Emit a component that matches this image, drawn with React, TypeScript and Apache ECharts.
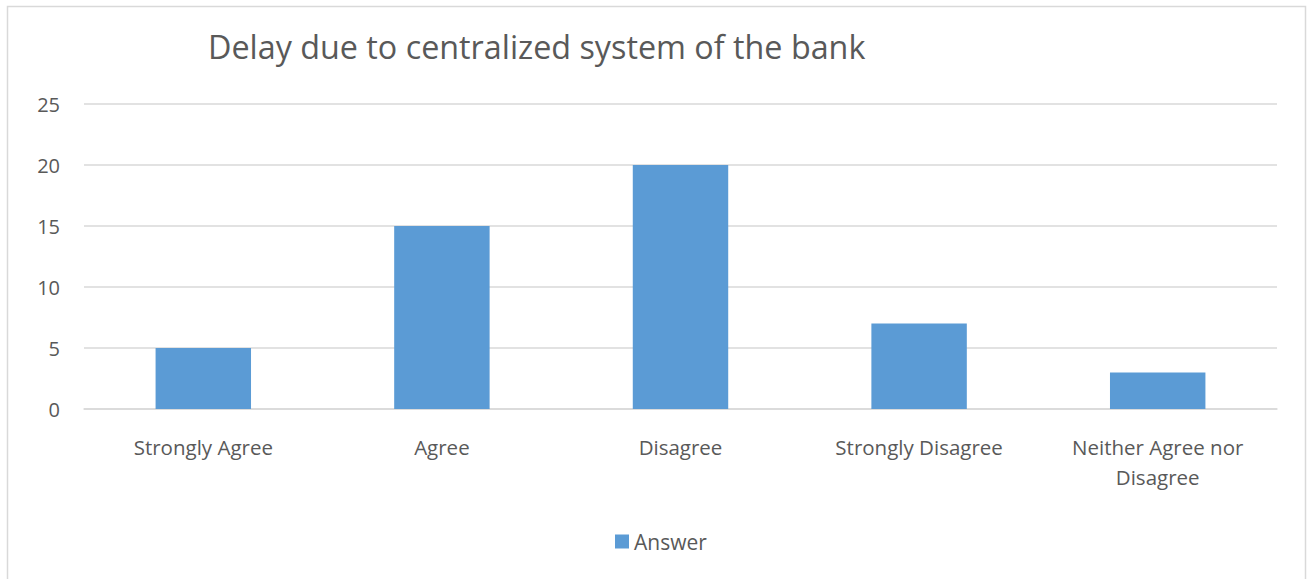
import React, { useEffect, useRef } from "react";
import * as echarts from "echarts";

const categories = ["Strongly Agree", "Agree", "Disagree", "Strongly Disagree", "Neither Agree nor\nDisagree"];
const answerValues = [5, 15, 20, 7, 3];
const seriesName = "Answer";
const titleText = "Delay due to centralized system of the bank";

export default function App() {
  const ref = useRef<HTMLDivElement>(null);
  useEffect(() => {
    if (!ref.current) return;
    const chart = echarts.init(ref.current, undefined, { renderer: "svg" });
    const font = "'Open Sans', 'Noto Sans', sans-serif";
    chart.setOption({
      animation: false,
      backgroundColor: "#ffffff",
      textStyle: { fontFamily: font },
      title: {
        text: titleText,
        left: 203,
        top: 25,
        textStyle: { fontSize: 32.3, fontWeight: "normal", color: "#595959", fontFamily: font },
      },
      graphic: [
        {
          type: "rect",
          shape: { x: 7.5, y: 6.5, width: 1298, height: 620 },
          style: { fill: "none", stroke: "#d9d9d9", lineWidth: 1.5 },
          silent: true,
        },
      ],
      legend: {
        data: [seriesName],
        bottom: 22,
        left: 610,
        itemWidth: 14,
        itemHeight: 14,
        icon: "rect",
        itemGap: 6,
        textStyle: { fontSize: 21, color: "#595959", fontFamily: font },
      },
      grid: { left: 84, right: 30, top: 104, bottom: 170, containLabel: false },
      xAxis: {
        type: "category",
        data: categories,
        axisLine: { show: true, lineStyle: { color: "#d9d9d9", width: 1.5 } },
        axisTick: { show: false },
        axisLabel: { fontSize: 20.5, color: "#595959", margin: 23, lineHeight: 30, interval: 0 },
      },
      yAxis: {
        type: "value",
        min: 0,
        max: 25,
        interval: 5,
        axisLine: { show: false },
        axisTick: { show: false },
        splitLine: { lineStyle: { color: "#d9d9d9", width: 1.5 } },
        axisLabel: { fontSize: 20, color: "#595959", margin: 24 },
      },
      series: [
        {
          name: seriesName,
          type: "bar",
          data: answerValues,
          barWidth: "40%",
          itemStyle: { color: "#5B9BD5" },
        },
      ],
    });
    return () => chart.dispose();
  }, []);
  return (
    <div
      ref={ref}
      style={{ position: "absolute", left: 0, top: 0, width: 1307, height: 579 }}
    />
  );
}
